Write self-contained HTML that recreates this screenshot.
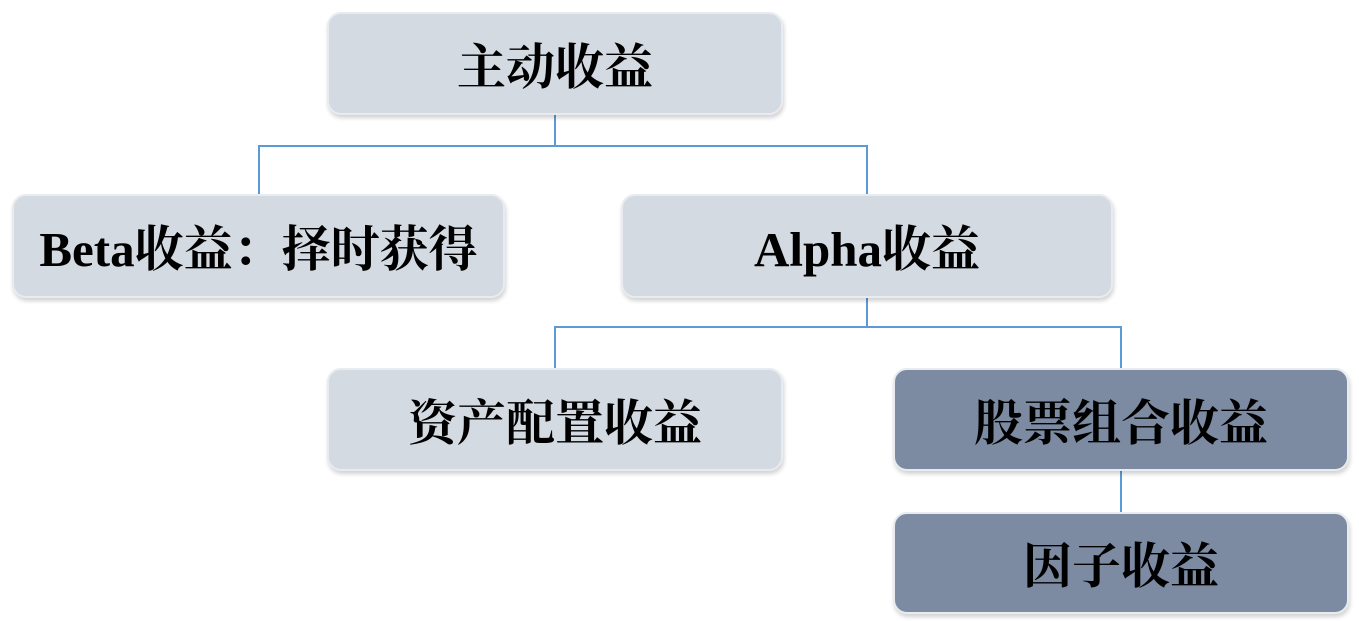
<!DOCTYPE html>
<html><head><meta charset="utf-8"><style>
body{margin:0;width:1359px;height:621px;background:#fff;position:relative;overflow:hidden;font-family:"Liberation Serif","Noto Serif CJK SC",serif;}
.b{position:absolute;border-radius:14px;display:flex;align-items:center;justify-content:center;font-size:49px;font-weight:bold;color:#000;box-shadow:1px 3px 4px rgba(0,0,0,0.18);border:2px solid #e8ebef;box-sizing:border-box}
.l{background:#d4dae2}.d{background:#7c8ba2}
svg{position:absolute;left:0;top:0}
</style></head><body>
<svg width="1359" height="621"><g stroke="#5b9bd5" stroke-width="2" fill="none">
<path d="M555 115V146H259V194M555 146H867V194"/>
<path d="M867 298V327H555V368M867 327H1121V368"/>
<path d="M1121 471V512"/></g></svg>
<div class="b l" style="left:327px;top:12px;width:456px;height:103px">主动收益</div>
<div class="b l" style="left:12px;top:194px;width:493px;height:104px">Beta收益：择时获得</div>
<div class="b l" style="left:621px;top:194px;width:492px;height:104px">Alpha收益</div>
<div class="b l" style="left:327px;top:368px;width:456px;height:103px">资产配置收益</div>
<div class="b d" style="left:893px;top:368px;width:456px;height:103px">股票组合收益</div>
<div class="b d" style="left:893px;top:512px;width:456px;height:102px">因子收益</div>
</body></html>
